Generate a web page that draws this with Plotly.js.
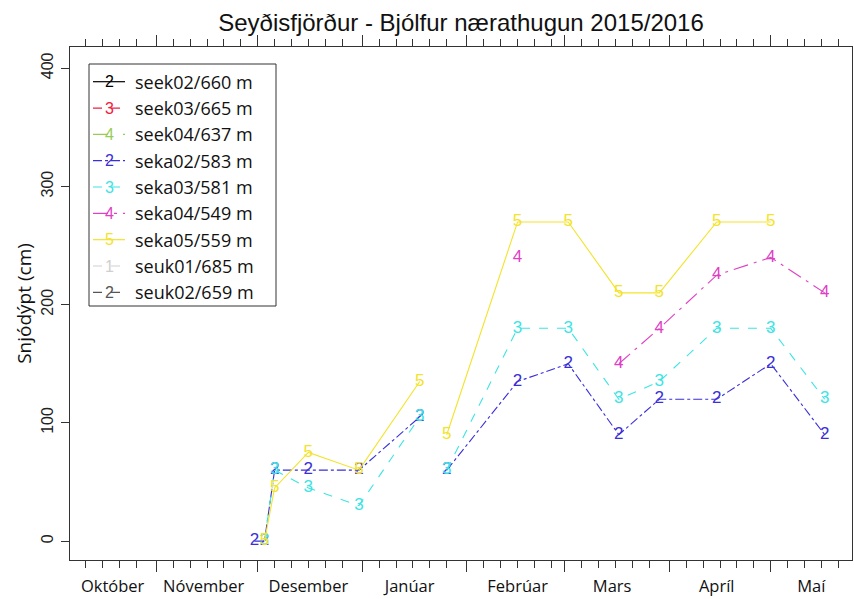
<!DOCTYPE html>
<html><head><meta charset="utf-8">
<script src="https://cdn.plot.ly/plotly-3.0.1.min.js"></script>
<style>html,body{margin:0;padding:0;background:#fff}#chart{width:854px;height:599px}</style>
</head><body><div id="chart"></div>
<script>
// ---- data ----
const dates = ['2015-11-30','2015-12-03','2015-12-06','2015-12-16','2015-12-31','2016-01-18','2016-01-22','2016-01-26','2016-02-16','2016-03-02','2016-03-17','2016-03-29','2016-04-15','2016-05-01','2016-05-17'];
const seriesNames = ['seek02/660 m','seek03/665 m','seek04/637 m','seka02/583 m','seka03/581 m','seka04/549 m','seka05/559 m','seuk01/685 m','seuk02/659 m'];
const seriesChars = ['2','3','4','2','3','4','5','1','2'];
const seek02 = [null,null,null,null,null,null,null,null,null,null,null,null,null,null,null];
const seek03 = [null,null,null,null,null,null,null,null,null,null,null,null,null,null,null];
const seek04 = [null,null,null,null,null,null,null,null,null,null,null,null,null,null,null];
const seka02 = [0,0,60,60,60,105,null,60,135,150,90,120,120,150,90];
const seka03 = [null,0,60,45,30,105,null,60,180,180,120,135,180,180,120];
const seka04 = [null,null,null,null,null,null,null,null,240,null,150,180,225,240,210];
const seka05 = [null,0,45,75,60,135,null,90,270,270,210,210,270,270,null];
const seuk01 = [null,null,null,null,null,null,null,null,null,null,null,null,null,null,null];
const seuk02 = [null,null,null,null,null,null,null,null,null,null,null,null,null,null,null];
const seriesValues = [seek02,seek03,seek04,seka02,seka03,seka04,seka05,seuk01,seuk02];

const monthNames = ['Október','Nóvember','Desember','Janúar','Febrúar','Mars','Apríl','Maí'];
const monthLabelDates = ['2015-10-19','2015-11-15','2015-12-16','2016-01-15','2016-02-16','2016-03-15','2016-04-15','2016-05-13'];
const monthStarts = ['2015-10-01','2015-11-01','2015-12-01','2016-01-01','2016-02-01','2016-03-01','2016-04-01','2016-05-01'];
const yTicks = [0,100,200,300,400];

// ---- styles ----
const seriesColors = ['#000000','#ee2040','#98cc5a','#3a2fd8','#3ee4e4','#e040c4','#f3e32a','#cfcfcf','#555555'];
const seriesDash = ['solid','dash','longdash','dashdot','dash','longdashdot','solid','dash','dash'];

// minor ticks: days 1,6,11,16,21,26 of every month
const minorTicks = [];
[[2015,10],[2015,11],[2015,12],[2016,1],[2016,2],[2016,3],[2016,4],[2016,5]].forEach(([y,m])=>{
  [1,6,11,16,21,26].forEach(d=>{
    minorTicks.push(y+'-'+String(m).padStart(2,'0')+'-'+String(d).padStart(2,'0'));
  });
});

const xRange = ['2015-10-06 09:00','2016-05-25 02:00'];

const traces = [];
seriesValues.forEach((vals,i)=>{
  traces.push({
    type:'scatter', mode:'lines+text', x:dates, y:vals,
    text: vals.map(()=>seriesChars[i]),
    textposition:'middle center',
    textfont:{family:'Liberation Sans, Arial, sans-serif', size:17, color:seriesColors[i]},
    line:{color:seriesColors[i], width:1.1, dash:seriesDash[i]},
    connectgaps:false, showlegend:false, hoverinfo:'skip', name:seriesNames[i]
  });
});
// carrier for month label axis
traces.push({type:'scatter', mode:'lines', x:[monthLabelDates[0]], y:[null], xaxis:'x2', yaxis:'y', showlegend:false, hoverinfo:'skip'});

// ---- custom legend (layout geometry in pixels) ----
const PX = {l:70, r:852, t:47, b:560};
const px2x = p => (p-PX.l)/(PX.r-PX.l);
const px2y = p => (PX.b-p)/(PX.b-PX.t);
const LG = {left:89, top:64, right:276, bottom:306, row0:81.7, step:26.33, lx0:93, lx1:125, cx:109, tx:133};
const shapes = [{type:'rect', xref:'paper', yref:'paper', x0:px2x(LG.left), x1:px2x(LG.right), y0:px2y(LG.bottom), y1:px2y(LG.top), line:{color:'#333', width:1}, fillcolor:'white', layer:'below'}];
const annotations = [];
seriesNames.forEach((nm,i)=>{
  const yy = px2y(LG.row0 + i*LG.step);
  shapes.push({type:'line', xref:'paper', yref:'paper', x0:px2x(LG.lx0), x1:px2x(LG.lx1), y0:yy, y1:yy, line:{color:seriesColors[i], width:1.2, dash:seriesDash[i]}});
  annotations.push({xref:'paper', yref:'paper', x:px2x(LG.cx), y:yy, text:seriesChars[i], showarrow:false, xanchor:'center', yanchor:'middle', font:{family:'Liberation Sans, Arial, sans-serif', size:16, color:seriesColors[i]}});
  annotations.push({xref:'paper', yref:'paper', x:px2x(LG.tx), y:yy, text:nm, showarrow:false, xanchor:'left', yanchor:'middle', font:{family:'Open Sans, sans-serif', size:18, color:'#111'}});
});

const layout = {
  width:854, height:599,
  margin:{l:70, r:2, t:47, b:39},
  paper_bgcolor:'#fff', plot_bgcolor:'#fff',
  title:{text:'Seyðisfjörður - Bjólfur nærathugun 2015/2016', font:{family:'Liberation Sans, Arial, sans-serif', size:24, color:'#111'}, x:0.5, xref:'paper', y:1-23/599, yref:'container', yanchor:'middle'},
  xaxis:{type:'date', range:xRange, tickmode:'array', tickvals:monthStarts, ticks:'outside', ticklen:11, tickwidth:1, tickcolor:'#333',
         showticklabels:false, showline:true, linecolor:'#333', linewidth:1, mirror:'allticks', showgrid:false, zeroline:false,
         minor:{tickmode:'array', tickvals:minorTicks, ticks:'outside', ticklen:7, tickwidth:1, tickcolor:'#333', showgrid:false}},
  xaxis2:{type:'date', overlaying:'x', anchor:'y', side:'bottom', range:xRange, tickmode:'array', tickvals:monthLabelDates, ticktext:monthNames,
          ticks:'outside', ticklen:11, tickcolor:'rgba(0,0,0,0)', showline:false, showgrid:false, zeroline:false,
          tickfont:{family:'Open Sans, sans-serif', size:16.5, color:'#111'}},
  yaxis:{range:[-16,418], tickmode:'array', tickvals:yTicks, ticks:'outside', ticklen:8, tickwidth:1, tickcolor:'#333', tickangle:-90,
         ticklabelstandoff:2, tickfont:{family:'Liberation Sans, Arial, sans-serif', size:16, color:'#222'},
         showline:true, linecolor:'#333', linewidth:1, mirror:true, showgrid:false, zeroline:false,
         title:{text:'Snjódýpt (cm)', font:{family:'Open Sans, sans-serif', size:19, color:'#111'}, standoff:1}},
  shapes:shapes, annotations:annotations, showlegend:false
};
Plotly.newPlot('chart', traces, layout, {displayModeBar:false, staticPlot:true});
</script></body></html>
